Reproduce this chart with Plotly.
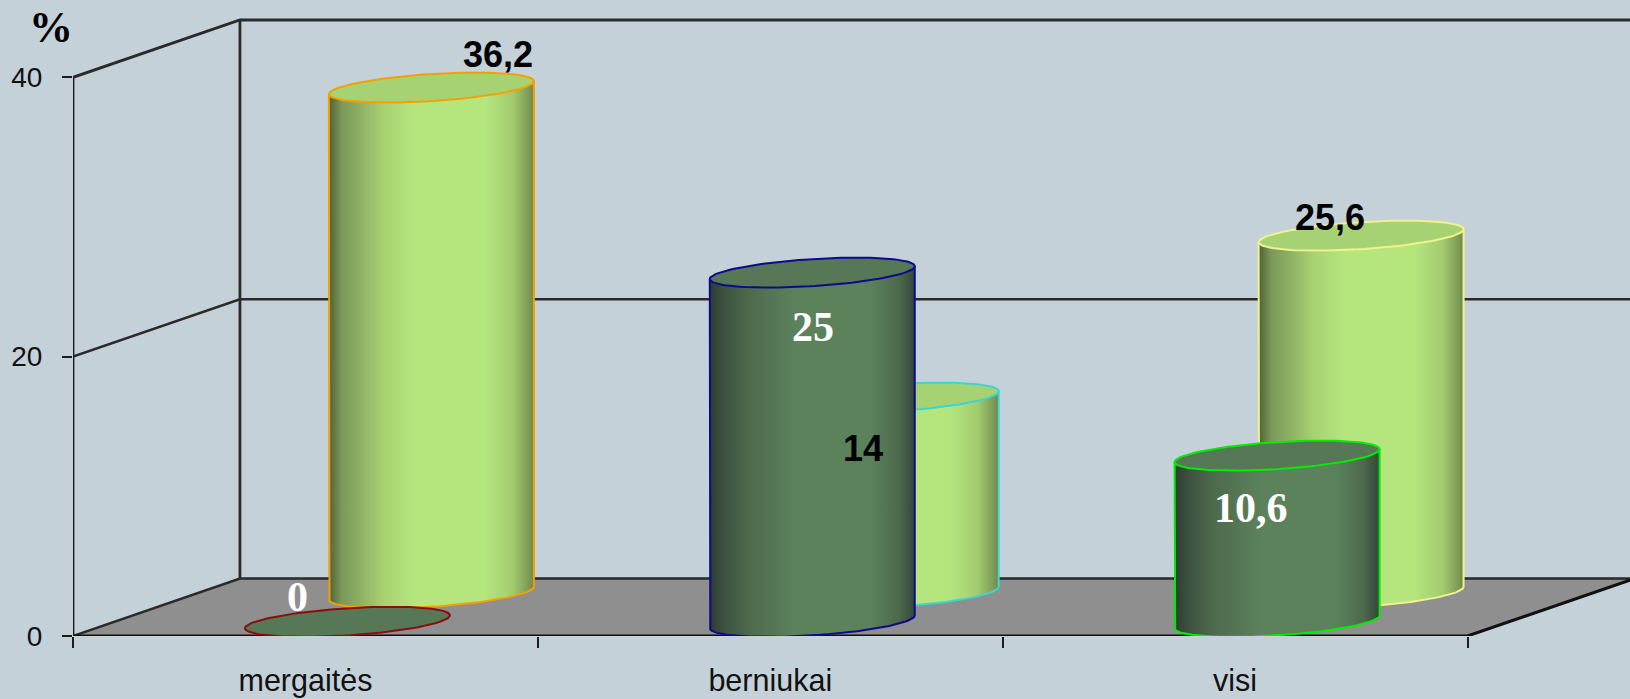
import numpy as np
import plotly.graph_objects as go

# ---------- data ----------
categories = ["mergaitės", "berniukai", "visi"]
# heights as drawn in the picture; the "visi" front cylinder stands at about 11.9
# on the axis although its printed label says 10,6
front_values = [0, 25, 11.9]
back_values = [36.2, 14, 25.6]
front_labels = ["0", "25", "10,6"]
back_labels = ["36,2", "14", "25,6"]
y_ticks = [0, 20, 40]

# ---------- layout constants ----------
W, H = 1630, 699
ML, MB = 72.5, 63.3
PX_X, PX_Y = 465.0, 13.96          # pixels per category / per percent
DEPTH_X, DEPTH_Y = 167.0, 57.4     # pixel shift from front to back of the box
FRONT_OFF, BACK_OFF = (42.0, 14.2), (126.0, 42.8)
A, DX, DY = 92.6, 44.0, 15.0       # ellipse shape in pixels

BG = "#C5D1D8"
FLOOR = "#8F8F8F"
AXIS = "#1C1C1C"
LIGHT_TOP = "#A7D273"
DARK_TOP = "#567856"
LIGHT_SCALE = [[0, "#4E6138"], [0.06, "#7A9858"], [0.14, "#8AAD62"], [0.27, "#A8D272"], [0.42, "#B5E67E"],
               [0.76, "#B5E67E"], [0.9, "#A2CA6E"], [0.97, "#7F9E58"], [1, "#6C8749"]]
DARK_SCALE = [[0, "#2C3D30"], [0.07, "#3E5240"], [0.2, "#4E6B4E"], [0.42, "#5C825C"], [0.78, "#5C825C"],
              [0.92, "#4E6A4C"], [1, "#34463A"]]
FRONT_EDGES = ["#8B0D0D", "#0B0B8C", "#00EE00"]
BACK_EDGES = ["#F5A000", "#3CD6D0", "#F2F28C"]

fig = go.Figure()


def dx(px):
    return px / PX_X


def dy(px):
    return px / PX_Y


def add_line(xs, ys, width=2, color=AXIS):
    fig.add_trace(go.Scatter(x=xs, y=ys, mode="lines", line=dict(color=color, width=width),
                             cliponaxis=False, showlegend=False, hoverinfo="skip"))


def add_cylinder(i, value, off, edge, scale, top_color):
    cx = i + dx(off[0])
    base = dy(off[1])
    t0 = np.arctan2(DX, A)
    R = np.hypot(A, DX)
    t_lower = np.linspace(t0 - np.pi, t0, 60)     # left to right through the front
    t_all = np.linspace(0, 2 * np.pi, 121)
    ex = lambda t: cx + dx(A * np.cos(t) + DX * np.sin(t))
    ey = lambda t, level: level + dy(DY * np.sin(t))
    top = base + value
    if value > 0:
        xs = np.concatenate([ex(t_lower), ex(t_lower[::-1])])
        ys = np.concatenate([ey(t_lower, base), ey(t_lower[::-1], top)])
        fig.add_trace(go.Scatter(
            x=xs, y=ys, mode="none", fill="toself", fillcolor=top_color,
            fillgradient=dict(type="horizontal", colorscale=scale,
                              start=cx - dx(R), stop=cx + dx(R)),
            showlegend=False, hoverinfo="skip"))
        # outline: left side, front of base, right side
        add_line(np.concatenate([[ex(t_lower)[0]], ex(t_lower), [ex(t_lower)[-1]]]),
                 np.concatenate([[ey(t_lower, top)[0]], ey(t_lower, base), [ey(t_lower, top)[-1]]]),
                 width=2, color=edge)
    fig.add_trace(go.Scatter(x=ex(t_all), y=ey(t_all, top), mode="lines", fill="toself", fillcolor=top_color,
                             line=dict(color=edge, width=2), cliponaxis=False,
                             showlegend=False, hoverinfo="skip"))


x0, x_end = -0.5, 2.5
d_x, d_y = dx(DEPTH_X), dy(DEPTH_Y)
page_right = x0 + dx(W - ML)

# floor
fig.add_trace(go.Scatter(
    x=[x0, x_end, x_end + d_x, x0 + d_x, x0], y=[0, 0, d_y, d_y, 0], mode="none",
    fill="toself", fillcolor=FLOOR, showlegend=False, hoverinfo="skip"))

# walls: gridlines running round the box, back and front verticals
for v in y_ticks:
    add_line([x0, x0 + d_x, page_right], [v, v + d_y, v + d_y], width=3 if v == y_ticks[-1] else 2.5,
             color="#2A2A2A")
add_line([x0 + d_x, x0 + d_x], [d_y, y_ticks[-1] + d_y], width=2.8, color="#2A2A2A")
add_line([x0, x0], [0, y_ticks[-1]], width=2.8)
add_line([x0, x_end, x_end + d_x], [0, 0, d_y], width=3, color="#111111")

# cylinders, back row first
for i, v in enumerate(back_values):
    add_cylinder(i, v, BACK_OFF, BACK_EDGES[i], LIGHT_SCALE, LIGHT_TOP)
for i, v in enumerate(front_values):
    add_cylinder(i, v, FRONT_OFF, FRONT_EDGES[i], DARK_SCALE, DARK_TOP)

# value labels: pixel offsets from the centre of each cylinder's top
BACK_LABEL_SHIFT = [(67, 33), (-33, -51), (-31, 18)]
FRONT_LABEL_SHIFT = [(-50, 25), (1, -54), (-26, -52)]
SANS_B = dict(family="Liberation Sans", size=36, color="#000000")
SERIF_B = dict(family="Liberation Serif", size=42, color="#FFFFFF")
for vals, labels, off, shifts, font in [
        (back_values, back_labels, BACK_OFF, BACK_LABEL_SHIFT, SANS_B),
        (front_values, front_labels, FRONT_OFF, FRONT_LABEL_SHIFT, SERIF_B)]:
    for i, (v, t, s) in enumerate(zip(vals, labels, shifts)):
        fig.add_annotation(x=i + dx(off[0] + s[0]), y=v + dy(off[1] + s[1]), text=f"<b>{t}</b>",
                           showarrow=False, xanchor="center", yanchor="middle", font=font)

fig.add_annotation(xref="paper", yref="paper", x=(50 - ML) / (W - ML), y=(H - 27 - MB) / (H - MB),
                   text="<b>%</b>", showarrow=False, xanchor="center", yanchor="middle",
                   font=dict(family="Liberation Serif", size=44, color="#000000"))

fig.update_layout(
    width=W, height=H, autosize=False,
    margin=dict(l=ML, r=0, t=0, b=MB, pad=0),
    paper_bgcolor=BG, plot_bgcolor="rgba(0,0,0,0)",
    showlegend=False, hovermode=False,
    xaxis=dict(range=[x0, page_right], tickmode="array", tickvals=list(range(len(categories))),
               ticktext=categories, ticks="", showgrid=False, zeroline=False, showline=False,
               tickfont=dict(family="Liberation Sans", size=30.5, color="#111111"),
               ticklabelstandoff=23, fixedrange=True,
               minor=dict(tickmode="array", tickvals=[x0 + k for k in range(len(categories) + 1)],
                          ticks="outside", ticklen=11, tickwidth=1.5, tickcolor=AXIS, showgrid=False)),
    yaxis=dict(range=[0, (H - MB) / PX_Y], tickmode="array", tickvals=y_ticks,
               ticktext=[str(v) for v in y_ticks], ticks="outside", ticklen=10, tickwidth=1.5,
               tickcolor=AXIS, showgrid=False, zeroline=False, showline=False,
               tickfont=dict(family="Liberation Sans", size=28, color="#111111"),
               ticklabelstandoff=14, fixedrange=True),
)

fig.write_html("out.html", config={"displayModeBar": False},
               post_script="document.body.style.margin='0';document.body.style.overflow='hidden';")
